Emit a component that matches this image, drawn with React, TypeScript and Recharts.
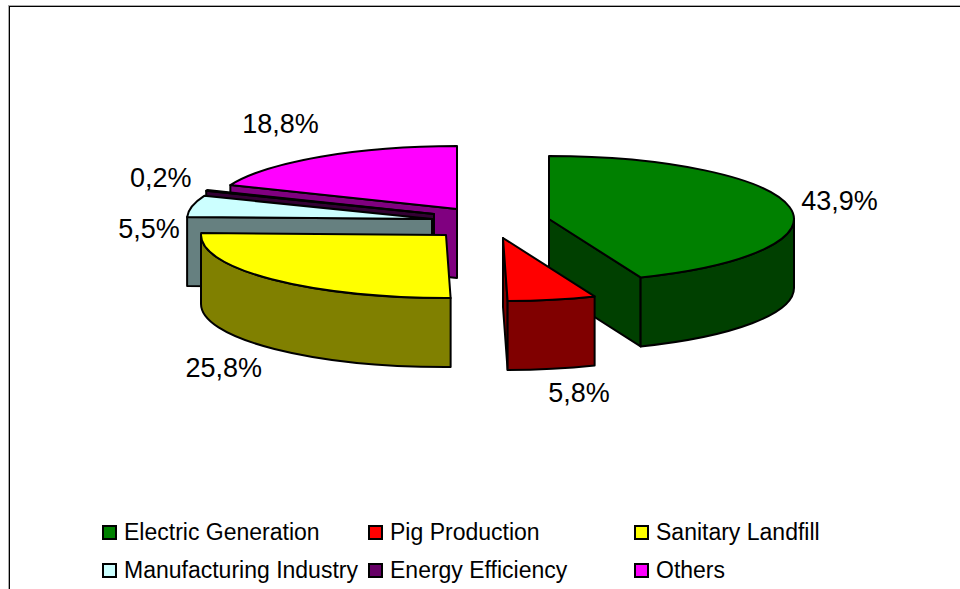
import { Legend, Pie, PieChart } from "recharts"

const categories = ["Electric Generation", "Pig Production", "Sanitary Landfill", "Manufacturing Industry", "Energy Efficiency", "Others"]
const shares = [43.9, 5.8, 25.8, 5.5, 0.2, 18.8]
const topColors = ["#008000", "#ff0000", "#ffff00", "#ccffff", "#660066", "#ff00ff"]
const sideColors = ["#004000", "#800000", "#808000", "#668080", "#330033", "#800080"]

// back to front, the slices overlap each other
const drawOrder = [5, 4, 3, 2, 0, 1]

// how far each slice is pulled out of the pie
const explodeX = [59, 13, -44, -58, -56, -33]
const explodeY = [-3, 16, 13, -3, -8, -13]
// label centre relative to the middle of the slice's rim
const labelX = [50, 27, -48, -43, -46, -40]
const labelY = [-6, 93, 89, 23, -12, -33]

const tableData = categories.map((name, i) => ({
  name,
  value: shares[i],
  fill: topColors[i],
  side: sideColors[i],
  slot: i,
}))

const CX = 490
const CY = 222
const RADIUS = 245
const TILT = 63 / 245
const DEPTH = 69
const FONT = "'Liberation Sans', Arial, sans-serif"

const rad = (deg: number) => (deg * Math.PI) / 180

const rimPoint = (x: number, y: number, r: number, mathAngle: number) => ({
  x: x + r * Math.cos(rad(mathAngle)),
  y: y - r * TILT * Math.sin(rad(mathAngle)),
})

const Slice3D = (props: any) => {
  const { cx, cy, outerRadius, startAngle, endAngle, payload } = props
  const slot = payload.slot
  const x = cx + explodeX[slot]
  const y = cy + explodeY[slot]
  const r = outerRadius
  const ry = r * TILT
  const from = rimPoint(x, y, r, startAngle)
  const to = rimPoint(x, y, r, endAngle)
  const large = startAngle - endAngle > 180 ? 1 : 0
  const edge = { stroke: "#000", strokeWidth: 2, strokeLinejoin: "round" as const }

  const faces = []
  // a cut face shows only when it turns towards the viewer
  if (Math.cos(rad(startAngle)) < -0.001) {
    faces.push(`M${x},${y}L${from.x},${from.y}L${from.x},${from.y + DEPTH}L${x},${y + DEPTH}Z`)
  }
  if (Math.cos(rad(endAngle)) > 0.001) {
    faces.push(`M${x},${y}L${to.x},${to.y}L${to.x},${to.y + DEPTH}L${x},${y + DEPTH}Z`)
  }

  // outer wall, only the part on the near side of the ellipse
  const wallStart = Math.min(startAngle, 0)
  const wallEnd = Math.max(endAngle, -180)
  let wall = null
  if (wallStart > wallEnd) {
    const a = rimPoint(x, y, r, wallStart)
    const b = rimPoint(x, y, r, wallEnd)
    const big = wallStart - wallEnd > 180 ? 1 : 0
    wall = `M${a.x},${a.y}A${r},${ry} 0 ${big} 1 ${b.x},${b.y}L${b.x},${b.y + DEPTH}A${r},${ry} 0 ${big} 0 ${a.x},${a.y + DEPTH}Z`
  }

  return (
    <g>
      {faces.map((d) => (
        <path key={d} d={d} fill={payload.side} {...edge} />
      ))}
      {wall && <path d={wall} fill={payload.side} {...edge} />}
      <path d={`M${x},${y}L${from.x},${from.y}A${r},${ry} 0 ${large} 1 ${to.x},${to.y}Z`} fill={payload.fill} {...edge} />
    </g>
  )
}

const sliceLabel = (props: any, layer: number) => {
  const { cx, cy, outerRadius, midAngle, payload } = props
  const slot = payload.slot
  if (slot !== layer) return <g />
  const p = rimPoint(cx + explodeX[slot], cy + explodeY[slot], outerRadius, midAngle)
  return (
    <text
      x={p.x + labelX[slot]}
      y={p.y + labelY[slot]}
      textAnchor="middle"
      dominantBaseline="central"
      fontFamily={FONT}
      fontSize={27}
      fill="#000"
    >
      {payload.value.toFixed(1).replace(".", ",")}%
    </text>
  )
}

const renderLegend = () => (
  <div
    style={{
      display: "grid",
      gridTemplateColumns: "266px 266px 266px",
      gridAutoRows: "38px",
      fontFamily: FONT,
      fontSize: 23,
      color: "#000",
    }}
  >
    {categories.map((name, i) => (
      <div key={name} style={{ display: "flex", alignItems: "center", whiteSpace: "nowrap" }}>
        <span
          style={{
            width: 11,
            height: 11,
            border: "2px solid #000",
            background: topColors[i],
            marginRight: 7,
            flex: "none",
          }}
        />
        {name}
      </div>
    ))}
  </div>
)

export default function App() {
  return (
    <div style={{ position: "absolute", left: 0, top: 0, width: 960, height: 589, overflow: "hidden", background: "#fff" }}>
      <div
        style={{
          position: "absolute",
          left: 9,
          top: 6,
          right: -10,
          bottom: -10,
          borderLeft: "1px solid #000",
          borderTop: "1px solid #000",
          boxShadow: "-1px -1px 0 #aaa",
        }}
      />
      <PieChart
        width={960}
        height={589}
        margin={{ top: 0, right: 0, bottom: 0, left: 0 }}
        style={{ position: "absolute", left: 0, top: 0 }}
      >
        {drawOrder.map((layer) => (
          <Pie
            key={layer}
            data={tableData}
            dataKey="value"
            nameKey="name"
            cx={CX}
            cy={CY}
            outerRadius={RADIUS}
            innerRadius={0}
            startAngle={90}
            endAngle={-270}
            paddingAngle={0}
            minAngle={0}
            stroke="none"
            labelLine={false}
            isAnimationActive={false}
            label={(p: any) => sliceLabel(p, layer)}
            shape={(p: any) => (p.payload.slot === layer ? <Slice3D {...p} /> : <g />)}
          />
        ))}
        <Legend
          content={renderLegend}
          wrapperStyle={{ position: "absolute", left: 102, top: 513, bottom: "auto", width: 800 }}
        />
      </PieChart>
    </div>
  )
}
